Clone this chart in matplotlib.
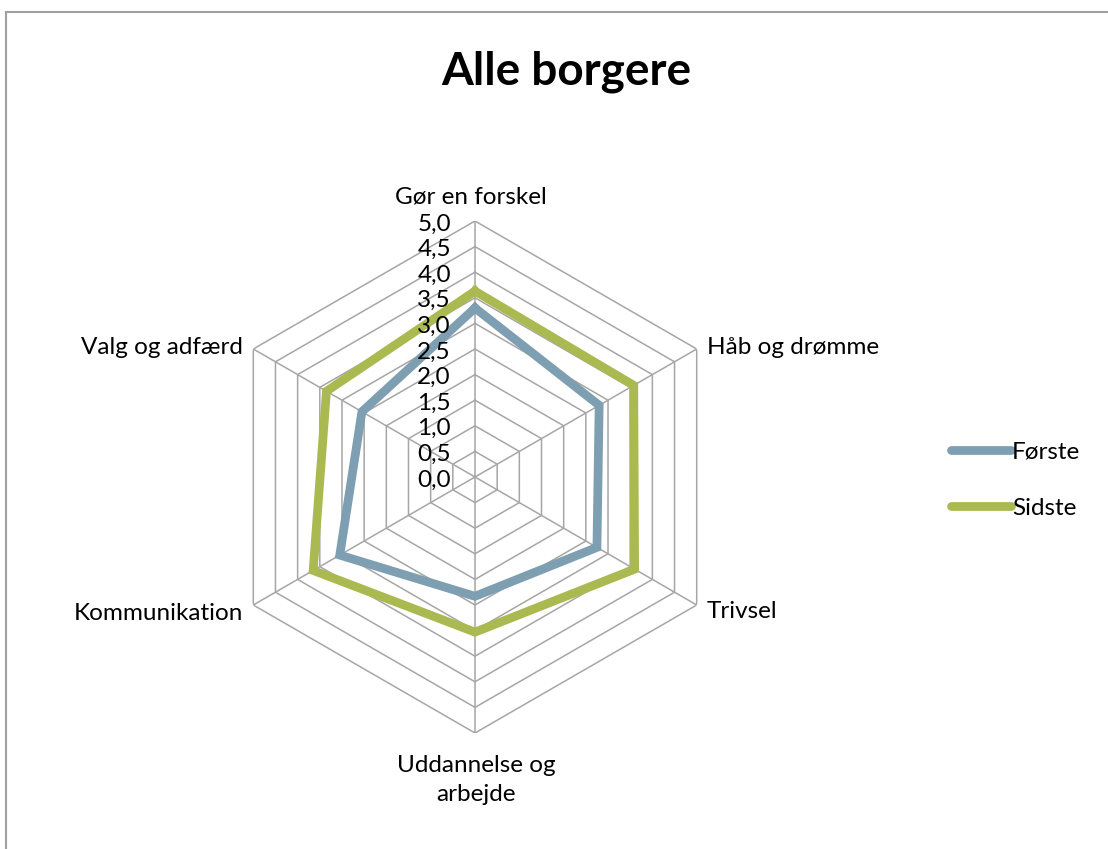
import numpy as np
import matplotlib.pyplot as plt
from matplotlib.lines import Line2D

categories = ["Gør en forskel", "Håb og drømme", "Trivsel",
              "Uddannelse og\narbejde", "Kommunikation", "Valg og adfærd"]
foerste = [3.3, 2.8, 2.75, 2.33, 3.05, 2.55]
sidste = [3.63, 3.58, 3.6, 3.03, 3.65, 3.35]
r_ticks = [0.0, 0.5, 1.0, 1.5, 2.0, 2.5, 3.0, 3.5, 4.0, 4.5, 5.0]
tick_labels = ["0,0", "0,5", "1,0", "1,5", "2,0", "2,5",
               "3,0", "3,5", "4,0", "4,5", "5,0"]

BLUE = "#7E9FB1"
GREEN = "#AAB950"
GRID = "#A6A6A6"
FS = 17.5

plt.rcParams["font.family"] = ["Lato", "DejaVu Sans"]

W, H = 1108, 849
fig = plt.figure(figsize=(W / 100, H / 100), dpi=100)

cx, cy, rad = 475 / W, 1 - 477 / H, 256
ax = fig.add_axes([cx - rad / W, cy - rad / H, 2 * rad / W, 2 * rad / H],
                  projection="polar")
ax.set_theta_offset(np.pi / 2)
ax.set_theta_direction(-1)
ax.set_ylim(0, 5)
ax.grid(False)
ax.spines["polar"].set_visible(False)
ax.set_xticks([])
ax.set_yticks([])
ax.patch.set_alpha(0)

n = len(categories)
theta = np.arange(n) * 2 * np.pi / n
theta_c = np.append(theta, theta[0])

# hexagonal grid and spokes
for r in r_ticks[1:]:
    ax.plot(theta_c, [r] * (n + 1), color=GRID, lw=1.1, zorder=1)
for t in theta:
    ax.plot([t, t], [0, 5], color=GRID, lw=1.1, zorder=1)

ax.plot(theta_c, foerste + foerste[:1], color=BLUE, lw=6.3,
        solid_joinstyle="miter", zorder=3)
ax.plot(theta_c, sidste + sidste[:1], color=GREEN, lw=6.3,
        solid_joinstyle="miter", zorder=3)

# radial tick labels, left of the top spoke
for r, lab in zip(r_ticks, tick_labels):
    x, y = ax.transData.transform((0, r))
    fig.text((x - 24) / W, (y - 3) / H, lab, ha="right", va="center",
             fontsize=FS)

# category labels
label_pos = [(471, 197, "center"), (707, 348, "left"), (707, 612, "left"),
             (476, 780, "center"), (243, 613, "right"), (243, 348, "right")]
for lab, (x, y, ha) in zip(categories, label_pos):
    fig.text(x / W, 1 - y / H, lab, ha=ha, va="center", fontsize=FS,
             linespacing=1.5)

fig.text(566 / W, 1 - 72 / H, "Alle borgere", ha="center", va="center",
         fontsize=33, fontweight="bold")

handles = [Line2D([], [], color=BLUE, lw=6.3, solid_capstyle="round"),
           Line2D([], [], color=GREEN, lw=6.3, solid_capstyle="round")]
fig.legend(handles, ["Første", "Sidste"], loc="center left",
           bbox_to_anchor=(951 / W, 1 - 480 / H), frameon=False,
           fontsize=FS, handlelength=2.45, handletextpad=0.05,
           labelspacing=1.45, borderpad=0, borderaxespad=0)

# chart border (top and left edges visible)
fig.add_artist(Line2D([5.5 / W, 5.5 / W], [0, 1 - 12 / H],
                      transform=fig.transFigure, color="#A0A0A0", lw=1.5))
fig.add_artist(Line2D([5.5 / W, 1], [1 - 12 / H, 1 - 12 / H],
                      transform=fig.transFigure, color="#A0A0A0", lw=1.5))

fig.savefig("out.png", dpi=100)
